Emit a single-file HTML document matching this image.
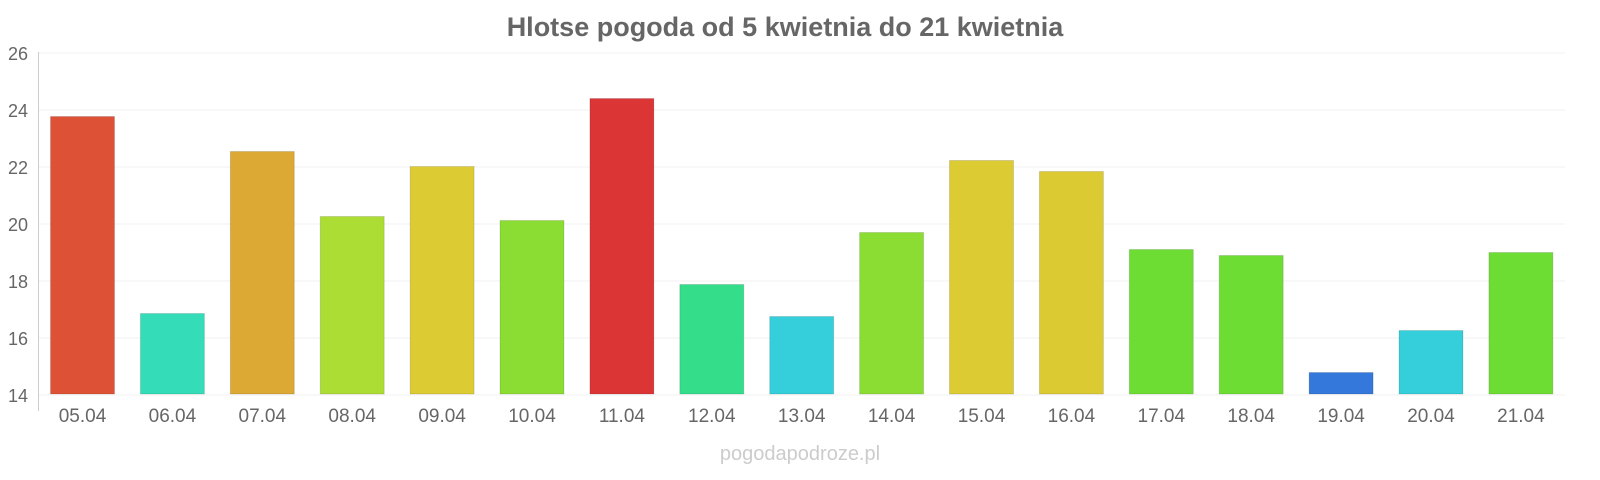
<!DOCTYPE html>
<html><head><meta charset="utf-8"><style>
body{margin:0;background:#fff;}
svg{display:block;font-family:"Liberation Sans",sans-serif;}
</style></head><body>
<svg width="1600" height="480" xmlns="http://www.w3.org/2000/svg">
<text x="785" y="36" text-anchor="middle" font-size="27" font-weight="bold" fill="#666">Hlotse pogoda od 5 kwietnia do 21 kwietnia</text>
<g stroke="#f0f0f0" stroke-width="1">
<line x1="38" x2="1565" y1="53" y2="53"/><line x1="38" x2="1565" y1="110" y2="110"/><line x1="38" x2="1565" y1="167" y2="167"/><line x1="38" x2="1565" y1="224" y2="224"/><line x1="38" x2="1565" y1="281" y2="281"/><line x1="38" x2="1565" y1="338" y2="338"/><line x1="38" x2="1565" y1="395" y2="395"/>
</g>
<line x1="38.5" x2="38.5" y1="52" y2="411" stroke="#ccc"/>
<g font-size="18" fill="#666" text-anchor="start">
<text x="8" y="60">26</text><text x="8" y="117">24</text><text x="8" y="174">22</text><text x="8" y="231">20</text><text x="8" y="288">18</text><text x="8" y="345">16</text><text x="8" y="402">14</text>
</g>
<g id="bars"></g>
<g id="labels" font-size="19" fill="#666" text-anchor="middle"></g>
<text x="800" y="460" text-anchor="middle" font-size="20" fill="#ccc">pogodapodroze.pl</text>
<script>
var tops=[116,313,151,216,166,220,98,284,316,232,160,171,249,255,372,330,252];
var cols=["#dd5236","#34ddb8","#dca935","#acdd34","#dccb33","#8cdd33","#dc3535","#34dd8a","#35cedb","#8cdd33","#dccb33","#dcca33","#6ddd33","#6ddd33","#3478dc","#35cedb","#6ddd33"];
var names=["05.04","06.04","07.04","08.04","09.04","10.04","11.04","12.04","13.04","14.04","15.04","16.04","17.04","18.04","19.04","20.04","21.04"];
var b=document.getElementById("bars"),l=document.getElementById("labels"),ns="http://www.w3.org/2000/svg";
for(var i=0;i<17;i++){var x=50+89.9*i;var r=document.createElementNS(ns,"rect");
r.setAttribute("x",x+0.5);r.setAttribute("y",tops[i]+0.5);r.setAttribute("width",64);r.setAttribute("height",393.5-tops[i]);r.setAttribute("fill",cols[i]);r.setAttribute("stroke","rgba(0,0,0,0.12)");b.appendChild(r);
var t=document.createElementNS(ns,"text");t.setAttribute("x",x+32.5);t.setAttribute("y",422);t.textContent=names[i];l.appendChild(t);}
</script>
</svg>
</body></html>
